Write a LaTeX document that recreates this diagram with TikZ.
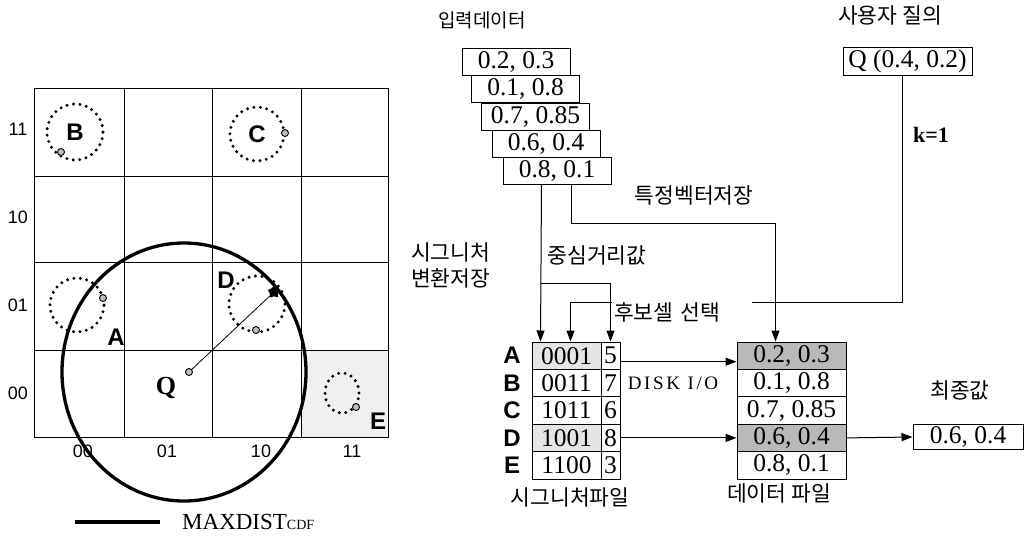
\documentclass[tikz,border=0pt]{standalone}
\usepackage{fontspec}
\setmainfont{Liberation Serif}
\setsansfont{Liberation Sans}
\newfontfamily\kor{Noto Sans CJK KR}
\usetikzlibrary{arrows.meta,shapes.geometric}
\begin{document}
\begin{tikzpicture}[x=1pt,y=-1pt,
  gridline/.style={line width=1pt},
  dotc/.style={line width=3.3pt, dash pattern=on 0pt off 6.5pt, line cap=round},
  pointmk/.style={circle, draw, fill=gray!50, inner sep=0pt, minimum size=7pt, line width=0.9pt},
  cellbox/.style={draw, line width=1pt, inner sep=0pt, font=\fontsize{25.5}{25.5}\selectfont},
  kr/.style={font=\kor\fontsize{21.5}{26}\selectfont, inner sep=1pt},
  arr/.style={-{Triangle[length=11pt,width=8pt]}, line width=1pt},
  lbl/.style={font=\sffamily\bfseries\fontsize{24}{24}\selectfont, inner sep=0pt},
  axl/.style={font=\sffamily\fontsize{18}{18}\selectfont, inner sep=0pt}]
\useasboundingbox (0,0) rectangle (1024,541);

% ---------- grid ----------
\fill[gray!12] (301,350) rectangle (388,437);
\draw[gridline] (34,88) rectangle (388,437);
\foreach \x in {124,212,301} \draw[gridline] (\x,88) -- (\x,437);
\foreach \y in {176,262,350} \draw[gridline] (34,\y) -- (388,\y);

\node[axl] (r11) at (18,129) {11};
\node[axl] (r10) at (18,217) {10};
\node[axl] (r01) at (18,305) {01};
\node[axl] (r00) at (18,393) {00};
\node[axl] (c00) at (83,451) {00};
\node[axl] (c01) at (167,451) {01};
\node[axl] (c10) at (261,451) {10};
\node[axl] (c11) at (352,451) {11};

\draw[dotc] (75,132) circle[radius=28pt];
\draw[dotc] (257,134) circle[radius=27pt];
\draw[dotc] (77,305) circle[radius=27pt];
\draw[dotc] (257,304) circle[radius=28pt];
\draw[dotc] (342,393) circle[x radius=17pt, y radius=20pt];

\node[lbl] (lB) at (75,132) {B};
\node[lbl] (lC) at (257,134) {C};
\node[lbl] (lA) at (116,337) {A};
\node[lbl] (lD) at (226,280) {D};
\node[lbl] (lE) at (378,421) {E};
\node[font=\bfseries\fontsize{26}{26}\selectfont, inner sep=0pt] (lQ) at (166,388) {Q};

\node[pointmk] (pB) at (61,152) {};
\node[pointmk] (pC) at (285,133) {};
\node[pointmk] (pA) at (103,298) {};
\node[pointmk] (pD) at (256,330) {};
\node[pointmk] (pE) at (356,407) {};
\node[pointmk] (pQ) at (189,372) {};
\node[star, star points=5, fill=black, inner sep=0pt, minimum size=13pt] (st) at (274,292) {};
\draw[line width=0.8pt] (pQ) -- (st);

\draw[line width=3.3pt] (184,372) circle[x radius=122pt, y radius=129pt];

\coordinate (lg1) at (75,522);
\coordinate (lg2) at (160,522);
\draw[line width=4.5pt] (lg1) -- (lg2);
\node[anchor=base west, inner sep=0pt, font=\fontsize{23}{23}\selectfont] (mx) at (182,529)
  {MAXDIST{\fontsize{14}{14}\selectfont CDF}};

% ---------- right side ----------
\node[kr, font=\kor\fontsize{19}{20}\selectfont] (tin) at (482,20) {입력데이터};
\node[kr] (tq) at (890,15) {사용자 질의};

\node[cellbox, minimum width=108pt, minimum height=27pt] (d1) at (516,61.5) {0.2, 0.3};
\node[cellbox, minimum width=108pt, minimum height=27pt] (d2) at (525.5,89) {0.1, 0.8};
\node[cellbox, minimum width=108pt, minimum height=27pt] (d3) at (535.5,116.5) {0.7, 0.85};
\node[cellbox, minimum width=108pt, minimum height=27pt] (d4) at (546,143.5) {0.6, 0.4};
\node[cellbox, minimum width=108pt, minimum height=27pt] (d5) at (557,170.5) {0.8, 0.1};

\node[cellbox, minimum width=129pt, minimum height=28pt] (qb) at (907.5,61) {Q (0.4, 0.2)};
\node[font=\bfseries\fontsize{22}{22}\selectfont, inner sep=0pt] (k1) at (931,135) {k=1};

% signature file
\foreach \n/\c/\v/\yy/\sh in {A/0001/5/355.7/gray!20, B/0011/7/383.1/white, C/1011/6/410.5/white, D/1001/8/437.9/gray!20, E/1100/3/465.3/white}{
  \node[cellbox, fill=\sh, minimum width=69pt, minimum height=27.4pt] (s\n) at (566.5,\yy) {\c};
  \node[cellbox, minimum width=19pt, minimum height=27.4pt] (s\n n) at (610.5,\yy) {\v};
  \node[lbl] (r\n) at (512,\yy) {\n};
}
% data file
\foreach \n/\v/\yy/\sh in {A/{0.2, 0.3}/355.7/gray!55, B/{0.1, 0.8}/383.1/white, C/{0.7, 0.85}/410.5/white, D/{0.6, 0.4}/437.9/gray!55, E/{0.8, 0.1}/465.3/white}{
  \node[cellbox, fill=\sh, minimum width=109pt, minimum height=27.4pt] (t\n) at (791.5,\yy) {\v};
}
\node[cellbox, minimum width=110pt, minimum height=25pt] (fin) at (968,437) {0.6, 0.4};

\node[kr] (tsf) at (570,497) {시그니처파일};
\node[kr] (tdf) at (779,493) {데이터 파일};
\node[kr] (tfin) at (960,390) {최종값};
\node[kr] (tfv) at (694,195) {특정벡터저장};
\node[kr] (tcd) at (597,255) {중심거리값};
\node[kr, align=left, anchor=north west] (tsig) at (410,242) {시그니처\\변환저장};
\node[font=\fontsize{19}{19}\selectfont\addfontfeature{LetterSpace=14}, inner sep=0pt] (disk) at (673,383) {DISK I/O};

% connectors
\draw[arr] ([xshift=60pt]qb.south west) -- ++(0,227) -| ([xshift=39pt]sA.north west);
\node[kr, fill=white, anchor=west, text width=136pt, align=left, inner xsep=2pt, minimum height=24pt] (tcs) at (612,312) {후보셀 선택};
\draw[arr] ([xshift=39pt]d5.south west) -- ([xshift=9pt]sA.north west);
\coordinate (br) at (541,283);
\draw[arr] (br) -| (sAn.north);
\draw[arr] ([xshift=69pt]d5.south west) -- ++(0,39) -| ([xshift=39pt]tA.north west);
\draw[arr] ([yshift=-6pt]sAn.east) -- ([yshift=-6pt]tA.west);
\draw[arr] (sDn.east) -- (tD.west);
\draw[arr] (tD.east) -- (fin.west);
\end{tikzpicture}
\end{document}
